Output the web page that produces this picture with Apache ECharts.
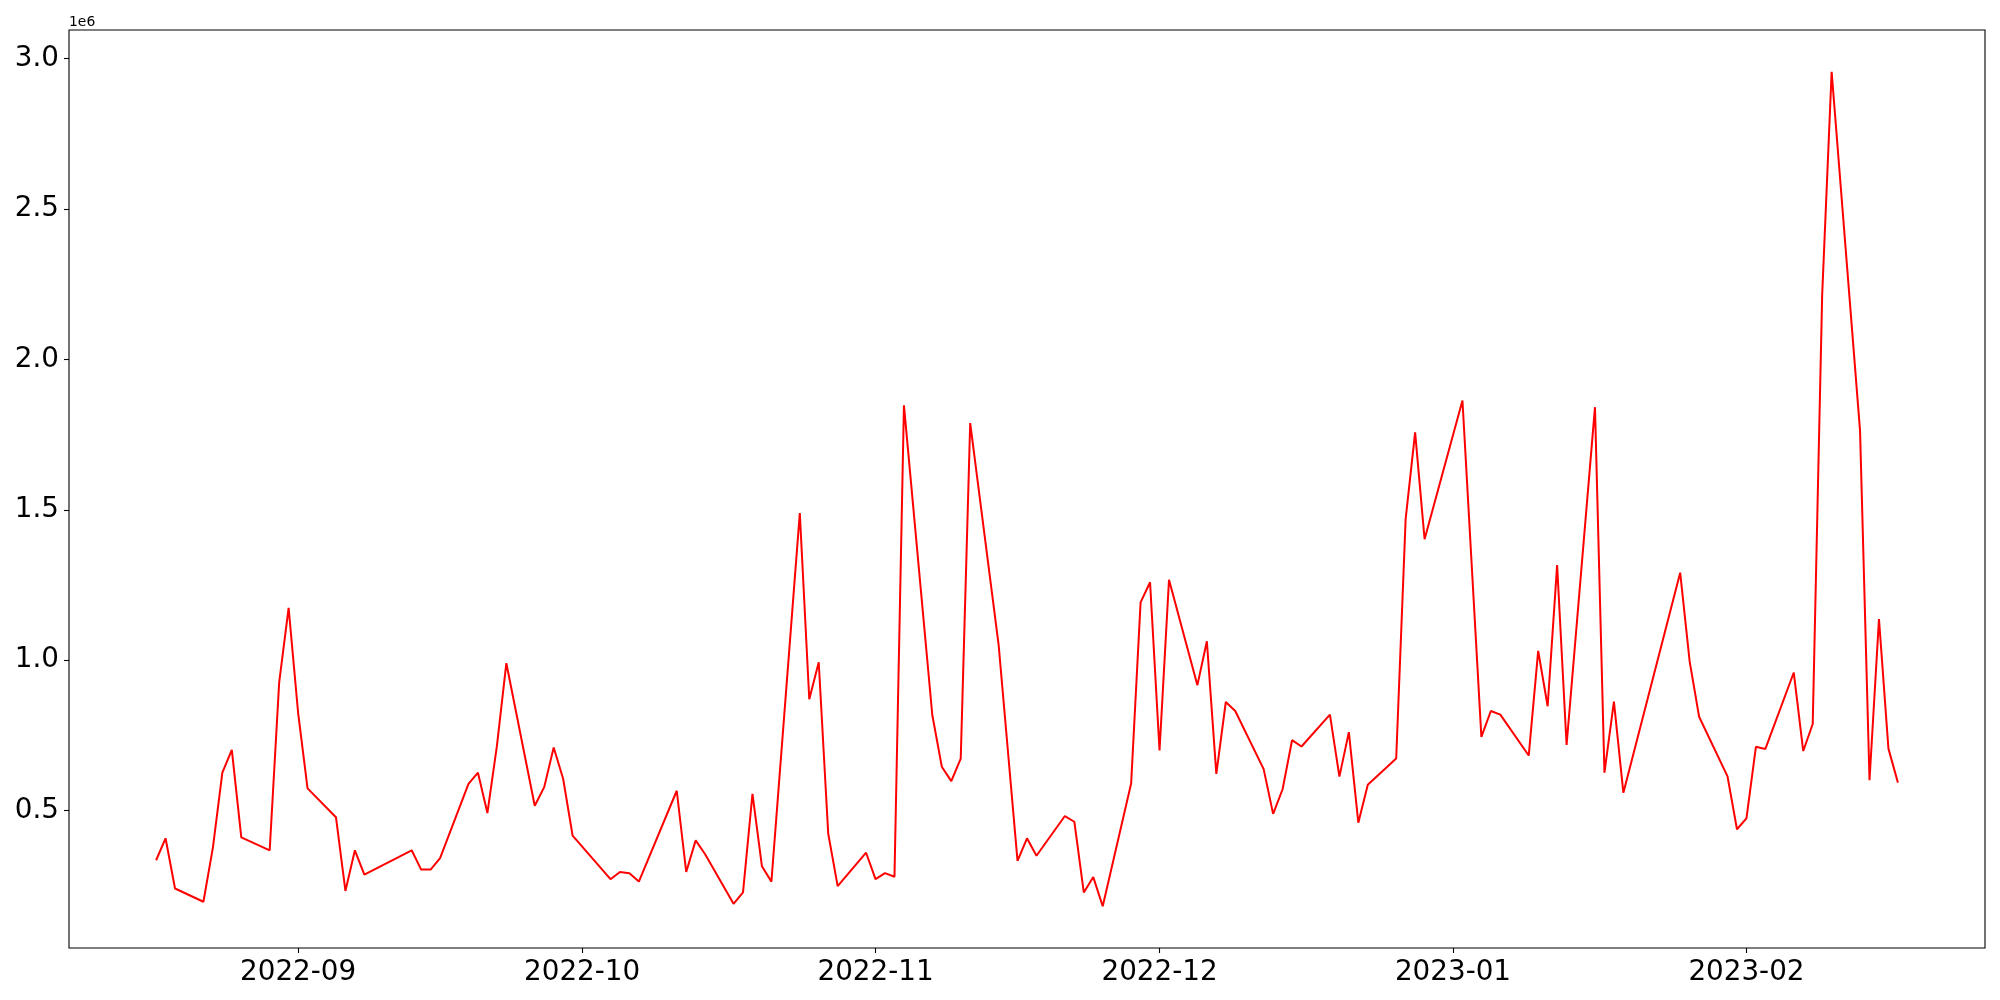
<!DOCTYPE html>
<html>
<head>
<meta charset="utf-8">
<script src="https://cdn.jsdelivr.net/npm/echarts@6/dist/echarts.min.js"></script>
<style>
html,body{margin:0;padding:0;background:#fff;}
#chart{width:2000px;height:1000px;}
</style>
</head>
<body>
<div id="chart"></div>
<script>
const dates = [
'2022-08-17','2022-08-18','2022-08-19','2022-08-22','2022-08-23','2022-08-24','2022-08-25','2022-08-26',
'2022-08-29','2022-08-30','2022-08-31','2022-09-01','2022-09-02','2022-09-05','2022-09-06','2022-09-07',
'2022-09-08','2022-09-13','2022-09-14','2022-09-15','2022-09-16','2022-09-19','2022-09-20','2022-09-21',
'2022-09-22','2022-09-23','2022-09-26','2022-09-27','2022-09-28','2022-09-29','2022-09-30','2022-10-04',
'2022-10-05','2022-10-06','2022-10-07','2022-10-11','2022-10-12','2022-10-13','2022-10-14','2022-10-17',
'2022-10-18','2022-10-19','2022-10-20','2022-10-21','2022-10-24','2022-10-25','2022-10-26','2022-10-27',
'2022-10-28','2022-10-31','2022-11-01','2022-11-02','2022-11-03','2022-11-04','2022-11-07','2022-11-08',
'2022-11-09','2022-11-10','2022-11-11','2022-11-14','2022-11-16','2022-11-17','2022-11-18','2022-11-21',
'2022-11-22','2022-11-23','2022-11-24','2022-11-25','2022-11-28','2022-11-29','2022-11-30','2022-12-01',
'2022-12-02','2022-12-05','2022-12-06','2022-12-07','2022-12-08','2022-12-09','2022-12-12','2022-12-13',
'2022-12-14','2022-12-15','2022-12-16','2022-12-19','2022-12-20','2022-12-21','2022-12-22','2022-12-23',
'2022-12-26','2022-12-27','2022-12-28','2022-12-29','2023-01-02','2023-01-04','2023-01-05','2023-01-06',
'2023-01-09','2023-01-10','2023-01-11','2023-01-12','2023-01-13','2023-01-16','2023-01-17','2023-01-18',
'2023-01-19','2023-01-25','2023-01-26','2023-01-27','2023-01-30','2023-01-31','2023-02-01','2023-02-02',
'2023-02-03','2023-02-06','2023-02-07','2023-02-08','2023-02-09','2023-02-10','2023-02-13','2023-02-14',
'2023-02-15','2023-02-16','2023-02-17'
];
const values = [
335000,408000,241000,197000,377000,626000,702000,411000,
368000,925000,1174000,826000,574000,478000,233000,368000,
287000,368000,304000,304000,342000,589000,626000,492000,
714000,990000,516000,578000,710000,606000,417000,272000,
296000,292000,264000,566000,296000,401000,355000,190000,
228000,556000,315000,264000,1489000,870000,993000,424000,
249000,360000,272000,292000,280000,1847000,817000,646000,
598000,673000,1788000,1052000,333000,408000,350000,482000,
463000,228000,279000,182000,590000,1192000,1259000,700000,
1267000,917000,1063000,622000,861000,831000,638000,489000,
571000,734000,713000,819000,613000,761000,460000,586000,
673000,1470000,1757000,1402000,1863000,745000,831000,819000,
683000,1031000,847000,1316000,718000,1841000,626000,862000,
559000,1291000,996000,812000,614000,438000,474000,712000,
705000,959000,698000,788000,2215000,2956000,1763000,601000,
1137000,706000,593000
];
const monthTicks = ['2022-09','2022-10','2022-11','2022-12','2023-01','2023-02'];
const yTicks = [0.5, 1.0, 1.5, 2.0, 2.5, 3.0];
const yScale = 1e6;
const yScaleLabel = '1e6';

const toTs = s => Date.parse(s + 'T00:00:00Z');
const data = dates.map((d, i) => [toTs(d), values[i]]);
const xs = data.map(p => p[0]);
const xMin0 = Math.min(...xs), xMax0 = Math.max(...xs);
const xPad = (xMax0 - xMin0) * 0.05;
const yMin0 = Math.min(...values), yMax0 = Math.max(...values);
const yPad = (yMax0 - yMin0) * 0.05;
const monthTs = monthTicks.map(m => toTs(m + '-01'));
const yTickVals = yTicks.map(v => v * yScale);

const FONT = 'DejaVu Sans';
const chart = echarts.init(document.getElementById('chart'), null, {renderer: 'canvas'});
chart.setOption({
  animation: false,
  backgroundColor: '#ffffff',
  grid: {
    left: 69, right: 15, top: 30, bottom: 52,
    show: true, borderColor: '#000', borderWidth: 1.1, backgroundColor: '#fff'
  },
  xAxis: {
    type: 'value',
    min: xMin0 - xPad,
    max: xMax0 + xPad,
    axisLine: {show: false},
    splitLine: {show: false},
    axisTick: {show: true, customValues: monthTs, length: 5, lineStyle: {color: '#000', width: 1.1}},
    axisLabel: {
      customValues: monthTs,
      margin: 11,
      color: '#000',
      fontFamily: FONT,
      fontSize: 27.8,
      formatter: v => {
        const i = monthTs.indexOf(v);
        return i >= 0 ? monthTicks[i] : '';
      }
    }
  },
  yAxis: {
    type: 'value',
    min: yMin0 - yPad,
    max: yMax0 + yPad,
    axisLine: {show: false},
    splitLine: {show: false},
    axisTick: {show: true, customValues: yTickVals, length: 5, lineStyle: {color: '#000', width: 1.1}},
    axisLabel: {
      customValues: yTickVals,
      margin: 10,
      color: '#000',
      fontFamily: FONT,
      fontSize: 27.8,
      formatter: v => (v / yScale).toFixed(1)
    }
  },
  graphic: [{
    type: 'text',
    left: 69,
    top: 15,
    style: {text: yScaleLabel, fill: '#000', font: '13.9px "DejaVu Sans"'}
  }],
  series: [{
    type: 'line',
    data: data,
    showSymbol: false,
    symbol: 'none',
    lineStyle: {color: '#ff0000', width: 2},
    itemStyle: {color: '#ff0000'}
  }]
});
</script>
</body>
</html>
